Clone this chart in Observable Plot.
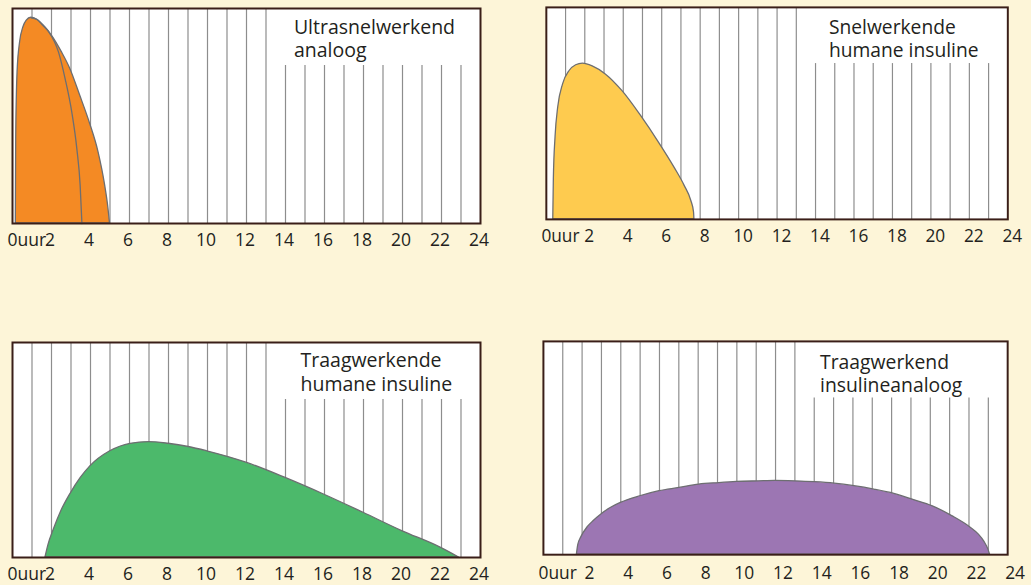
<!DOCTYPE html>
<html>
<head>
<meta charset="utf-8">
<script src="https://cdn.jsdelivr.net/npm/d3@7"></script>
<script src="https://cdn.jsdelivr.net/npm/@observablehq/plot@0.6"></script>
<style>
  html, body { margin: 0; padding: 0; background: #fdf5d8; width: 1031px; height: 585px; overflow: hidden; }
  .panel { position: absolute; }
  .panel svg { overflow: visible; }
</style>
</head>
<body>
<div id="p1" class="panel" style="left:0px;top:0px"></div>
<div id="p2" class="panel" style="left:534px;top:0px"></div>
<div id="p3" class="panel" style="left:0px;top:330px"></div>
<div id="p4" class="panel" style="left:531px;top:330px"></div>
<script>
// ---- tick labels & grid ----
const tickHours = [0, 2, 4, 6, 8, 10, 12, 14, 16, 18, 20, 22, 24];
const tickLabels = ["0uur", "2", "4", "6", "8", "10", "12", "14", "16", "18", "20", "22", "24"];
const gridHours = [1, 2, 3, 4, 5, 6, 7, 8, 9, 10, 11, 12, 13, 14, 15, 16, 17, 18, 19, 20, 21, 22, 23];

// ---- titles (two lines each) ----
const titleLine1 = ["Ultrasnelwerkend", "Snelwerkende", "Traagwerkende", "Traagwerkend"];
const titleLine2 = ["analoog", "humane insuline", "humane insuline", "insulineanaloog"];

// ---- series (hour, relative activity) ----
const ultraOuterX = [0.17, 0.19, 0.26, 0.39, 0.56, 0.73, 0.96, 1.25, 1.68, 2.02, 2.53, 2.96, 3.47, 3.98, 4.41, 4.75, 4.92, 5.0];
const ultraOuterY = [0, 0.395, 0.704, 0.843, 0.913, 0.944, 0.957, 0.949, 0.913, 0.874, 0.797, 0.72, 0.595, 0.464, 0.332, 0.177, 0.07, 0];
const ultraInnerX = [0.96, 1.25, 1.55, 1.85, 2.36, 2.7, 3.04, 3.3, 3.47, 3.56];
const ultraInnerY = [0.957, 0.949, 0.922, 0.893, 0.797, 0.673, 0.518, 0.347, 0.177, 0];

const snelX = [0.36, 0.39, 0.48, 0.62, 0.87, 1.21, 1.55, 1.9, 2.41, 3.09, 3.95, 4.97, 5.83, 6.68, 7.2, 7.54, 7.68, 7.7];
const snelY = [0, 0.187, 0.39, 0.53, 0.637, 0.70, 0.727, 0.735, 0.722, 0.684, 0.606, 0.482, 0.366, 0.242, 0.157, 0.087, 0.033, 0];

const traagHumX = [1.69, 1.85, 2.12, 2.5, 2.97, 3.5, 3.99, 5.01, 6.05, 6.99, 8.0, 9.04, 9.98, 12.03, 14.0, 15.97, 18.0, 19.98, 21.95, 22.9];
const traagHumY = [0, 0.06, 0.13, 0.215, 0.295, 0.37, 0.424, 0.494, 0.529, 0.537, 0.529, 0.514, 0.494, 0.44, 0.37, 0.293, 0.208, 0.123, 0.046, 0];

const traagAnaX = [1.73, 1.8, 1.95, 2.3, 2.6, 3.01, 3.5, 4.03, 5.0, 6.0, 7.03, 8.05, 9.08, 10.0, 11.13, 11.98, 13.01, 14.03, 15.06, 16.08, 17.11, 18.14, 19.16, 20.1, 21.13, 22.07, 22.5, 22.8, 23.0, 23.09];
const traagAnaY = [0, 0.045, 0.08, 0.13, 0.158, 0.19, 0.22, 0.244, 0.274, 0.298, 0.313, 0.329, 0.336, 0.341, 0.344, 0.346, 0.344, 0.34, 0.333, 0.321, 0.305, 0.285, 0.256, 0.228, 0.181, 0.128, 0.095, 0.06, 0.025, 0];

const colors = ["#f48a24", "#fecb4f", "#4cb96b", "#9c76b3"];

const zip = (xs, ys) => xs.map((x, i) => ({x, y: ys[i]}));

function panel(el, cfg) {
  const W = 468, H = 215, mL = 12, mR = 24, mB = 34;
  const boxBottom = 0.735;
  const curve = "monotone-x";
  const marks = [
    Plot.frame({fill: "white", stroke: null}),
    Plot.ruleX(gridHours, {x: d => d, y1: 0, y2: d => (d >= 14 ? boxBottom : 1), stroke: "#8d8d8d", strokeWidth: 1.2})
  ];
  for (const s of cfg.areas) {
    marks.push(Plot.areaY(s, {x: "x", y: "y", fill: cfg.color, stroke: "#6d6e71", strokeWidth: 1.3, curve}));
  }
  if (cfg.line) {
    marks.push(Plot.line(cfg.line, {x: "x", y: "y", stroke: "#6d6e71", strokeWidth: 1.3, curve}));
  }
  marks.push(
    Plot.text(tickHours.slice(1), {
      x: d => d, y: () => 0, text: (d, i) => tickLabels[i + 1],
      dy: cfg.labelDy, dx: cfg.labelDx, fontSize: 17.5, fill: "#231f20"
    }),
    Plot.text([tickLabels[0]], {
      x: () => tickHours[0], y: () => 0, text: d => d, textAnchor: "start",
      dy: cfg.labelDy, dx: -5, fontSize: 17.5, fill: "#231f20"
    }),
    Plot.text([cfg.t1], {
      x: () => cfg.titleX, y: () => cfg.titleY, text: d => d, textAnchor: "start",
      lineAnchor: "bottom", dy: -23.4, fontSize: 19.5, fill: "#231f20"
    }),
    Plot.text([cfg.t2], {
      x: () => cfg.titleX, y: () => cfg.titleY, text: d => d, textAnchor: "start",
      lineAnchor: "bottom", fontSize: 19.5, fill: "#231f20"
    }),
    Plot.frame({stroke: "#3a1e18", strokeWidth: 2})
  );
  const svg = Plot.plot({
    width: mL + W + mR,
    height: cfg.top + H + mB,
    marginLeft: mL, marginRight: mR, marginTop: cfg.top, marginBottom: mB,
    x: {domain: [0, 24], axis: null},
    y: {domain: [0, 1], axis: null},
    style: {background: "transparent", fontFamily: "'Open Sans', sans-serif", overflow: "visible"},
    marks
  });
  document.getElementById(el).appendChild(svg);
}

panel("p1", {top: 8, color: colors[0], areas: [zip(ultraOuterX, ultraOuterY)], line: zip(ultraInnerX, ultraInnerY),
  t1: titleLine1[0], t2: titleLine2[0], titleX: 14.43, titleY: 0.774, labelDx: -1.5, labelDy: 17});
panel("p2", {top: 7, color: colors[1], areas: [zip(snelX, snelY)],
  t1: titleLine1[1], t2: titleLine2[1], titleX: 14.7, titleY: 0.768, labelDx: 4.5, labelDy: 17});
panel("p3", {top: 12, color: colors[2], areas: [zip(traagHumX, traagHumY)],
  t1: titleLine1[2], t2: titleLine2[2], titleX: 14.77, titleY: 0.775, labelDx: -1.5, labelDy: 17});
panel("p4", {top: 11, color: colors[3], areas: [zip(traagAnaX, traagAnaY)],
  t1: titleLine1[3], t2: titleLine2[3], titleX: 14.3, titleY: 0.762, labelDx: 7.5, labelDy: 19});
</script>
</body>
</html>
